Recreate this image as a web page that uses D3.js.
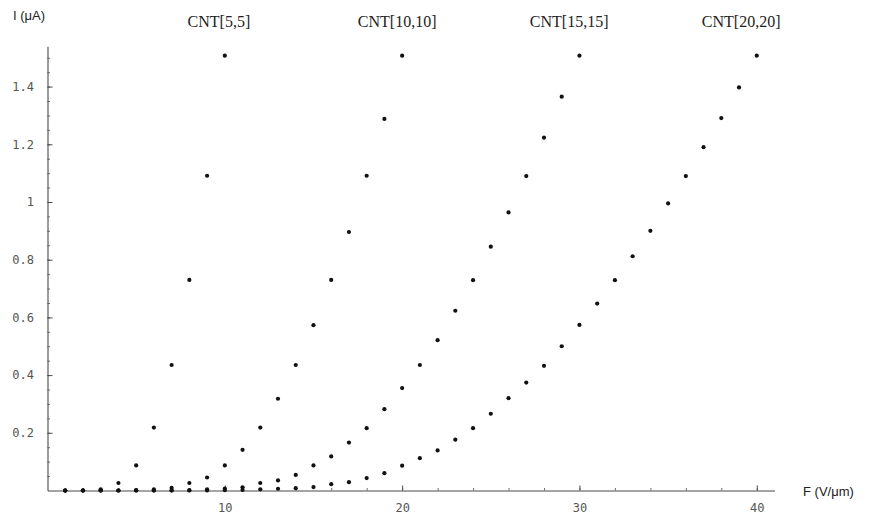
<!DOCTYPE html>
<html>
<head>
<meta charset="utf-8">
<script src="https://cdn.jsdelivr.net/npm/d3@7"></script>
<style>
  html, body { margin: 0; padding: 0; background: #fff; }
  svg { display: block; }
</style>
</head>
<body>
<svg id="chart" width="869" height="519"></svg>
<script>
// ---- data ----
const seriesNames = ["CNT[5,5]", "CNT[10,10]", "CNT[15,15]", "CNT[20,20]"];

const field5  = [1, 2, 3, 4, 5, 6, 7, 8, 9, 10];
const current5 = [0.000, 0.000, 0.004, 0.026, 0.087, 0.218, 0.435, 0.730, 1.091, 1.507];

const field10 = [1, 2, 3, 4, 5, 6, 7, 8, 9, 10, 11, 12, 13, 14, 15, 16, 17, 18, 19, 20];
const current10 = [0.000, 0.000, 0.000, 0.000, 0.001, 0.004, 0.009, 0.026, 0.045, 0.087,
                   0.141, 0.218, 0.318, 0.435, 0.573, 0.730, 0.896, 1.091, 1.288, 1.507];

const field15 = [1, 2, 3, 4, 5, 6, 7, 8, 9, 10, 11, 12, 13, 14, 15, 16, 17, 18, 19, 20,
                 21, 22, 23, 24, 25, 26, 27, 28, 29, 30];
const current15 = [0.000, 0.000, 0.000, 0.000, 0.000, 0.000, 0.000, 0.001, 0.004, 0.007,
                   0.011, 0.026, 0.035, 0.054, 0.087, 0.118, 0.166, 0.216, 0.282, 0.355,
                   0.435, 0.521, 0.623, 0.729, 0.845, 0.964, 1.090, 1.223, 1.365, 1.507];

const field20 = [1, 2, 3, 4, 5, 6, 7, 8, 9, 10, 11, 12, 13, 14, 15, 16, 17, 18, 19, 20,
                 21, 22, 23, 24, 25, 26, 27, 28, 29, 30, 31, 32, 33, 34, 35, 36, 37, 38, 39, 40];
const current20 = [0.000, 0.000, 0.000, 0.000, 0.000, 0.000, 0.000, 0.000, 0.000, 0.001,
                   0.002, 0.004, 0.006, 0.008, 0.012, 0.022, 0.029, 0.043, 0.060, 0.086,
                   0.112, 0.139, 0.176, 0.216, 0.266, 0.320, 0.374, 0.432, 0.500, 0.574,
                   0.648, 0.729, 0.812, 0.900, 0.995, 1.090, 1.190, 1.291, 1.397, 1.507];

// label anchor (field value under which each series name is written)
const labelAnchorField = [7.9, 17.5, 27.2, 36.9];

const xTickValues = [10, 20, 30, 40];
const xTickLabels = ["10", "20", "30", "40"];
const yTickValues = [0.2, 0.4, 0.6, 0.8, 1.0, 1.2, 1.4];
const yTickLabels = ["0.2", "0.4", "0.6", "0.8", "1", "1.2", "1.4"];
const xMinorTicks = d3.range(2, 41, 2);
const yMinorTicks = d3.range(0.05, 1.52, 0.05);

const xAxisLabel = "F (V/\u03bcm)";
const yAxisLabel = "I (\u03bcA)";

// ---- drawing ----
const svg = d3.select("#chart");
const x = d3.scaleLinear().domain([0, 41]).range([47.5, 774.5]);
const y = d3.scaleLinear().domain([0, 1.54]).range([490.5, 46.2]);

const axisColor = "#4a4a4a";
const labelColor = "#555";

// y axis minor ticks
const gyMinor = svg.append("g").attr("transform", `translate(${x(0)},0)`)
  .call(d3.axisLeft(y).tickValues(yMinorTicks).tickSizeInner(-2.5).tickSizeOuter(0).tickFormat(""));
gyMinor.select(".domain").remove();
gyMinor.selectAll("line").attr("stroke", axisColor).attr("stroke-width", 0.8);

// x axis minor ticks
const gxMinor = svg.append("g").attr("transform", `translate(0,${y(0)})`)
  .call(d3.axisBottom(x).tickValues(xMinorTicks).tickSizeInner(-2.5).tickSizeOuter(0).tickFormat(""));
gxMinor.select(".domain").remove();
gxMinor.selectAll("line").attr("stroke", axisColor).attr("stroke-width", 0.8);

// y axis
const gy = svg.append("g").attr("transform", `translate(${x(0)},0)`)
  .call(d3.axisLeft(y).tickValues(yTickValues).tickSizeInner(-5).tickSizeOuter(0)
        .tickPadding(13.5).tickFormat((d, i) => yTickLabels[i]));
gy.select(".domain").attr("stroke", axisColor).attr("stroke-width", 1.1);
gy.selectAll(".tick line").attr("stroke", axisColor).attr("stroke-width", 1);
gy.selectAll(".tick text").attr("fill", labelColor)
  .style("font-family", "'DejaVu Sans Mono', monospace").style("font-size", "12px");

// x axis
const gx = svg.append("g").attr("transform", `translate(0,${y(0)})`)
  .call(d3.axisBottom(x).tickValues(xTickValues).tickSizeInner(-5).tickSizeOuter(0)
        .tickPadding(13).tickFormat((d, i) => xTickLabels[i]));
gx.select(".domain").attr("stroke", axisColor).attr("stroke-width", 1.1);
gx.selectAll(".tick line").attr("stroke", axisColor).attr("stroke-width", 1);
gx.selectAll(".tick text").attr("fill", labelColor)
  .style("font-family", "'DejaVu Sans Mono', monospace").style("font-size", "12px");

// axis labels
svg.append("text").attr("x", 13).attr("y", 20).text(yAxisLabel)
  .attr("fill", "#222").style("font-family", "'Liberation Sans', Arial, sans-serif")
  .style("font-size", "13px");
svg.append("text").attr("x", 803).attr("y", 496).text(xAxisLabel)
  .attr("fill", "#222").style("font-family", "'Liberation Sans', Arial, sans-serif")
  .style("font-size", "13px");

// points
const allSeries = [
  { name: seriesNames[0], f: field5,  c: current5 },
  { name: seriesNames[1], f: field10, c: current10 },
  { name: seriesNames[2], f: field15, c: current15 },
  { name: seriesNames[3], f: field20, c: current20 },
];

allSeries.forEach((s, si) => {
  const pts = s.f.map((fv, i) => ({ f: fv, c: s.c[i] }));
  svg.append("g").selectAll("circle").data(pts).join("circle")
    .attr("cx", d => x(d.f)).attr("cy", d => y(d.c)).attr("r", 2.1)
    .attr("fill", "#111");
  // series name
  svg.append("text").attr("x", x(labelAnchorField[si])).attr("y", 27).text(s.name)
    .attr("fill", "#222")
    .style("font-family", "'Liberation Serif', 'Times New Roman', serif")
    .style("font-size", "16px");
});
</script>
</body>
</html>
